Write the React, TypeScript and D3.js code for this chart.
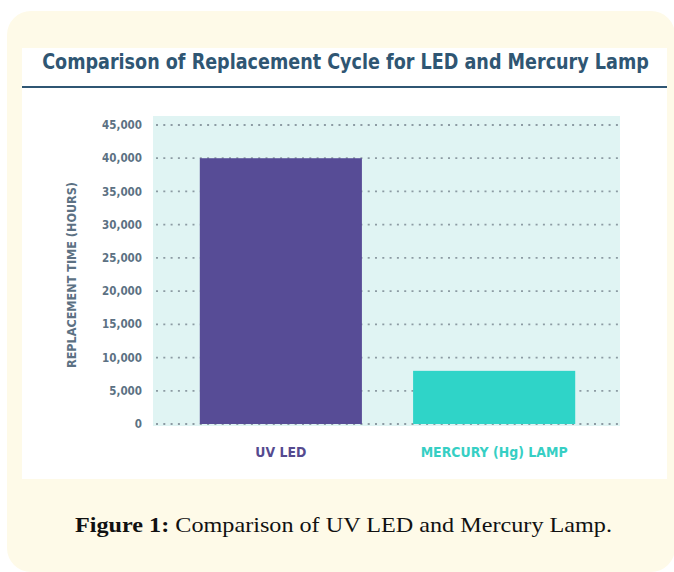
import React, { useLayoutEffect, useRef, useState } from "react";
import * as d3 from "d3";

const categories = ["UV LED", "MERCURY (Hg) LAMP"];
const values = [40000, 8000];
const barColors = ["#574c96", "#2fd4c8"];
const labelColors = ["#554a8f", "#36cfc4"];
const yTicks = [0, 5000, 10000, 15000, 20000, 25000, 30000, 35000, 40000, 45000];
const title = "Comparison of Replacement Cycle for LED and Mercury Lamp";
const yTitle = "REPLACEMENT TIME (HOURS)";
const captionBold = "Figure 1:";
const captionText = " Comparison of UV LED and Mercury Lamp.";

const W = 674;
const H = 572;
const condensed = "'DejaVu Sans Condensed', 'Liberation Sans Narrow', 'Roboto', 'DejaVu Sans', sans-serif";

function FitTitle({ cx, y, width }: { cx: number; y: number; width: number }) {
  const ref = useRef<SVGTextElement>(null);
  const [sx, setSx] = useState(0.75);
  useLayoutEffect(() => {
    if (ref.current) {
      const len = ref.current.getComputedTextLength();
      if (len > 0) setSx(width / len);
    }
  }, [width]);
  return (
    <text
      ref={ref}
      transform={`translate(${cx},${y}) scale(${sx},1)`}
      textAnchor="middle"
      fontFamily={condensed}
      fontWeight="bold"
      fontSize={20.5}
      fill="#2f5673"
    >
      {title}
    </text>
  );
}

export default function App() {
  const x = d3.scaleBand<string>().domain(categories).range([155, 620]).paddingInner(0.24).paddingOuter(0.21);
  const y = d3.scaleLinear().domain([0, 45000]).range([424, 125]);
  const fmt = d3.format(",");

  return (
    <svg width={W} height={H} style={{ position: "absolute", left: 0, top: 0 }}>
      <rect x={0} y={0} width={W} height={H} fill="#ffffff" />
      <rect x={7} y={11} width={668} height={561} rx={24} ry={24} fill="#fefae8" />
      <rect x={22} y={48} width={645} height={431} fill="#ffffff" />
      <FitTitle cx={345.5} y={68.5} width={607} />
      <line x1={22} x2={667} y1={87} y2={87} stroke="#2f5673" strokeWidth={2} />
      <rect x={153} y={116} width={467} height={310} fill="#e0f4f3" />
      {yTicks.map((t) => (
        <g key={t}>
          <line
            x1={156}
            x2={618}
            y1={y(t)}
            y2={y(t)}
            stroke="#8c9ba3"
            strokeWidth={1.8}
            strokeDasharray="2 5.3"
          />
          <text
            x={142}
            y={y(t)}
            dy="0.36em"
            textAnchor="end"
            fontFamily={condensed}
            fontWeight="bold"
            fontSize={11.5}
            fill="#5c7183"
          >
            {fmt(t)}
          </text>
        </g>
      ))}
      {categories.map((c, i) => (
        <rect
          key={c}
          x={x(c)}
          y={y(values[i])}
          width={x.bandwidth()}
          height={y(0) - y(values[i])}
          fill={barColors[i]}
        />
      ))}
      {categories.map((c, i) => (
        <text
          key={c}
          x={(x(c) as number) + x.bandwidth() / 2}
          y={457}
          textAnchor="middle"
          fontFamily={condensed}
          fontWeight="bold"
          fontSize={14.5}
          fill={labelColors[i]}
          textLength={i === 0 ? 51 : 147}
          lengthAdjust="spacingAndGlyphs"
        >
          {c}
        </text>
      ))}
      <text
        transform="translate(76,275) rotate(-90)"
        textAnchor="middle"
        fontFamily={condensed}
        fontWeight="bold"
        fontSize={11.5}
        fill="#5c7183"
        textLength={186}
        lengthAdjust="spacingAndGlyphs"
      >
        {yTitle}
      </text>
      <text
        x={75}
        y={532}
        fontFamily="'Liberation Serif', 'DejaVu Serif', serif"
        fontSize={22}
        fill="#111111"
        textLength={537}
        lengthAdjust="spacingAndGlyphs"
      >
        <tspan fontWeight="bold">{captionBold}</tspan>
        <tspan>{captionText}</tspan>
      </text>
    </svg>
  );
}
